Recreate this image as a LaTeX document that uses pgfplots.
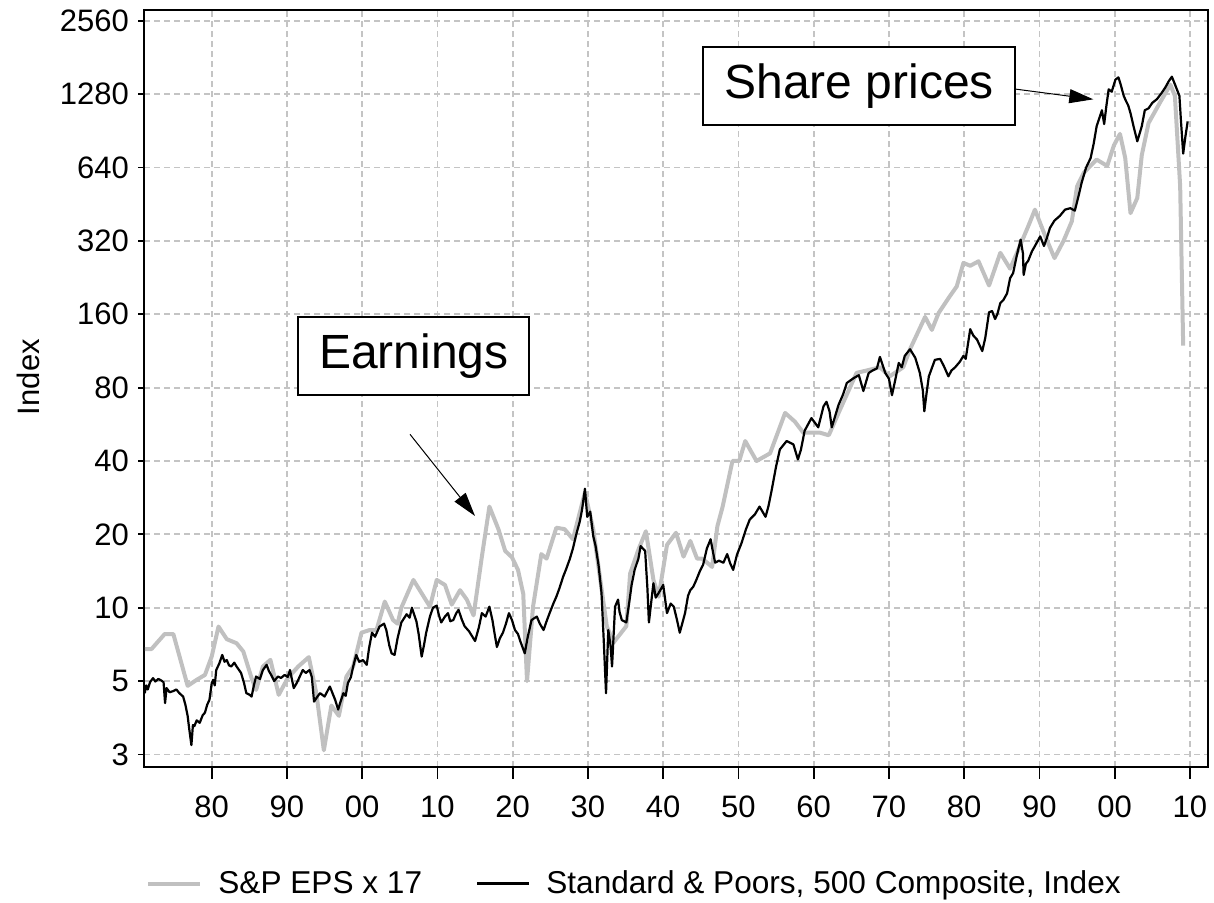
\documentclass[border=0pt]{standalone}
\usepackage{fontspec}
\setmainfont{Liberation Sans}
\usepackage{pgfplots}
\pgfplotsset{compat=1.18}
\usetikzlibrary{arrows.meta}

\definecolor{epsgrey}{HTML}{C0C0C0}
\definecolor{gridgrey}{HTML}{C4C4C4}

% S&P EPS x 17
\pgfplotstableread{
year eps
1871.1 6.77
1872.0 6.77
1873.75 7.8
1874.9 7.8
1876.8 4.78
1878.0 5.06
1879.1 5.3
1880.0 6.31
1880.9 8.37
1882.0 7.43
1883.3 7.15
1884.2 6.61
1885.3 5.14
1885.9 4.6
1886.8 5.74
1887.8 6.11
1888.9 4.39
1890.1 5.14
1891.5 5.74
1892.9 6.27
1893.9 4.46
1894.9 2.6
1895.9 3.97
1896.9 3.6
1897.9 5.22
1898.8 5.74
1899.9 7.9
1901.0 8.1
1901.9 8.1
1903.0 10.6
1904.1 8.9
1904.7 8.6
1905.2 10.0
1906.8 13.0
1909.0 10.1
1909.9 13.0
1911.0 12.4
1911.9 10.3
1913.0 11.8
1913.9 10.8
1914.8 9.3
1915.9 16.2
1916.9 26
1918.1 21
1919.0 17.1
1919.9 16.1
1920.7 14.3
1921.4 11.4
1921.9 5.0
1922.7 10.1
1923.8 16.6
1924.5 15.9
1925.8 21.3
1926.9 21
1928.0 19.1
1929.6 29.7
1930.7 21
1932.5 8.4
1933.4 7.2
1935.1 8.4
1935.6 13.8
1936.7 17.3
1937.7 20.6
1938.7 13
1939.4 11.1
1940.5 18.1
1941.7 20.3
1942.7 16.2
1943.6 18.8
1944.5 15.9
1945.2 15.9
1946.5 14.7
1947.2 21.6
1947.9 26
1949.2 40
1950.1 40
1950.9 48.3
1952.4 40
1954.2 43
1956.2 63
1957.5 58
1958.6 52.3
1960.8 52.3
1962.0 51
1963.5 65
1965.7 92
1967.0 94
1968.8 97
1970.1 89
1971.9 97
1972.8 115
1974.8 156
1975.7 138
1976.6 162
1978.1 190
1979.0 208
1979.9 260
1980.8 253
1981.9 264
1983.3 210
1984.8 286
1986.1 246
1987.2 295
1988.5 367
1989.4 430
1990.8 333
1992.0 272
1993.2 320
1994.3 385
1995.0 536
1995.9 610
1997.6 690
1999.0 650
1999.9 790
2000.7 880
2001.4 700
2002.1 416
2003.0 480
2003.6 720
2004.5 975
2006.0 1180
2007.4 1400
2008.0 1260
2008.7 536
2009.1 119
}\epstable

% Standard & Poors 500 Composite index
\pgfplotstableread{
year spx
1871.1 4.46
1871.3 4.8
1871.5 4.62
1871.8 4.95
1872.2 5.14
1872.5 4.98
1872.9 5.1
1873.2 5.05
1873.6 4.95
1873.8 4.06
1874.0 4.68
1874.4 4.5
1874.9 4.55
1875.3 4.62
1875.7 4.46
1876.2 4.32
1876.5 4.0
1876.8 3.6
1877.0 3.2
1877.3 2.73
1877.5 3.3
1877.7 3.27
1878.0 3.45
1878.4 3.37
1878.8 3.62
1879.1 3.71
1879.4 4.0
1879.7 4.19
1880.0 4.9
1880.2 5.06
1880.4 4.8
1880.6 5.55
1881.0 5.9
1881.4 6.4
1881.7 6.0
1882.0 6.1
1882.3 5.8
1882.6 5.74
1883.0 5.95
1883.3 5.74
1883.9 5.4
1884.3 4.9
1884.6 4.46
1885.0 4.4
1885.3 4.32
1885.6 4.8
1885.9 5.22
1886.4 5.1
1886.8 5.55
1887.3 5.83
1887.6 5.5
1887.9 5.3
1888.3 5.0
1888.8 5.22
1889.2 5.15
1889.7 5.3
1890.1 5.2
1890.4 5.55
1890.9 4.68
1891.2 4.85
1891.5 5.06
1892.1 5.55
1892.5 5.4
1893.0 5.55
1893.3 5.2
1893.6 4.12
1894.0 4.3
1894.4 4.46
1895.0 4.32
1895.3 4.5
1895.7 4.75
1896.0 4.5
1896.4 4.19
1896.8 3.82
1897.1 4.1
1897.5 4.46
1897.8 4.35
1898.1 4.91
1898.5 5.2
1898.8 5.74
1899.2 6.4
1899.6 6.0
1900.1 6.1
1900.6 5.83
1900.9 6.8
1901.3 7.9
1901.7 7.6
1902.3 8.37
1902.9 8.6
1903.2 8.1
1903.6 7.0
1903.9 6.5
1904.3 6.4
1904.7 7.5
1905.2 8.7
1905.9 9.4
1906.3 9.1
1906.6 10
1907.2 8.8
1907.5 7.8
1907.9 6.3
1908.2 7.0
1908.5 7.9
1909.0 9.2
1909.4 10
1909.9 10.2
1910.2 9.3
1910.5 8.7
1911.0 9.2
1911.4 9.5
1911.7 8.8
1912.1 8.9
1912.5 9.5
1912.8 9.8
1913.2 9.0
1913.6 8.4
1914.2 8.0
1915.0 7.3
1915.5 8.3
1915.9 9.5
1916.4 9.2
1916.9 10.1
1917.3 8.9
1917.6 7.8
1917.9 6.9
1918.3 7.5
1918.7 7.9
1919.1 8.6
1919.5 9.5
1919.9 8.9
1920.3 8.1
1920.7 7.8
1921.0 7.3
1921.6 6.5
1922.0 7.6
1922.5 8.9
1923.2 9.2
1923.6 8.6
1924.1 8.1
1924.5 8.8
1924.9 9.5
1925.4 10.4
1925.8 11.1
1926.2 12.0
1926.7 13.4
1927.1 14.4
1927.6 15.9
1928.0 17.5
1928.5 20.3
1928.9 22.5
1929.2 25.1
1929.6 30.8
1929.9 23.6
1930.3 24.8
1930.7 19.7
1931.0 18.0
1931.4 15
1931.8 11.5
1932.1 7.3
1932.4 4.46
1932.7 8.1
1933.0 7.0
1933.2 5.74
1933.6 10.1
1934.0 10.8
1934.2 9.6
1934.5 8.9
1935.1 8.7
1935.5 10.6
1935.8 12.4
1936.2 14.3
1936.7 15.9
1937.0 17.9
1937.6 17.1
1937.9 12.0
1938.1 8.7
1938.4 10.5
1938.7 12.6
1939.0 11.0
1939.4 11.5
1940.0 12.4
1940.5 9.5
1941.0 10.4
1941.4 10.1
1941.8 9.0
1942.2 7.9
1942.9 9.5
1943.3 11.2
1943.6 11.8
1944.0 12.2
1944.4 13
1944.9 14.2
1945.3 15
1945.8 17.5
1946.3 19.1
1946.6 17.0
1946.9 15.3
1947.4 15.6
1948.0 15.3
1948.5 16.6
1948.9 15.2
1949.3 14.3
1949.8 16.5
1950.4 18.4
1951.0 21.0
1951.5 23
1952.2 24.2
1952.8 26
1953.6 23.6
1954.0 26.2
1954.4 30.2
1955.0 38.0
1955.5 44.6
1956.4 48.3
1957.3 46.8
1957.9 40.6
1958.3 44.5
1958.8 53.3
1959.7 60
1960.6 55
1961.3 67
1961.7 70
1962.1 64
1962.4 55
1963.3 68
1963.9 75
1964.4 83.6
1965.3 87.5
1966.0 90
1966.6 77.5
1967.3 91.8
1967.8 94
1968.4 96
1968.8 107
1969.5 92
1970.0 87
1970.4 74.5
1970.8 85
1971.3 101
1971.7 97
1972.1 108
1972.8 115
1973.5 106
1974.1 92
1974.5 78
1974.7 64
1975.0 76
1975.3 89
1976.1 104
1976.8 105
1977.3 98
1977.9 89
1978.3 94
1978.8 97
1979.4 102
1979.9 108
1980.2 105
1980.8 139
1981.2 131
1981.7 126
1982.4 113
1982.8 128
1983.3 163
1983.7 165
1984.1 153
1984.4 160
1984.8 178
1985.2 183
1985.7 195
1986.1 225
1986.5 236
1987.0 280
1987.5 324
1987.8 285
1987.9 232
1988.2 258
1988.5 265
1989.0 290
1989.4 305
1990.1 334
1990.6 305
1991.0 330
1991.4 362
1992.0 388
1992.7 405
1993.4 430
1994.1 436
1994.7 426
1995.2 490
1995.6 554
1996.2 640
1996.8 700
1997.2 800
1997.6 946
1998.3 1100
1998.6 965
1998.9 1150
1999.2 1340
1999.6 1310
2000.1 1470
2000.5 1500
2000.8 1400
2001.2 1260
2001.5 1200
2001.8 1150
2002.1 1070
2002.5 946
2003.0 820
2003.3 880
2003.6 946
2004.0 1100
2004.5 1120
2005.0 1180
2005.6 1220
2006.2 1290
2006.7 1360
2007.2 1450
2007.6 1510
2008.1 1380
2008.6 1260
2008.8 1000
2009.1 730
2009.4 860
2009.7 990
}\spxtable

\begin{document}
\begin{tikzpicture}
\useasboundingbox (-72pt,-67.5pt) rectangle (535pt,383.5pt);
\begin{axis}[
    at={(0,0)}, anchor=south west,
    scale only axis,
    width=532pt, height=378.5pt,
    font=\fontsize{15.5}{18}\selectfont,
    ymode=log, log basis y=2,
    xmin=1871, xmax=2012.4,
    ymin=2.22, ymax=2836,
    xtick={1880,1890,...,2010},
    xticklabels={80,90,00,10,20,30,40,50,60,70,80,90,00,10},
    ytick={2.5,5,10,20,40,80,160,320,640,1280,2560},
    yticklabels={3,5,10,20,40,80,160,320,640,1280,2560},
    tick pos=left, tick align=outside,
    major tick length=3pt,
    xtick style={/pgfplots/major tick length=6pt, black, line width=0.9pt},
    ytick style={black, line width=0.9pt},
    xticklabel style={yshift=-8pt},
    yticklabel style={xshift=-1pt},
    axis line style={line width=1pt},
    grid=major,
    grid style={gridgrey, dash pattern=on 3pt off 2pt, line width=0.9pt},
    ylabel={Index},
    ylabel style={at={(axis description cs:-0.109,0.515)}, anchor=center},
    legend columns=2,
    legend style={draw=none, fill=none, at={(axis description cs:0.462,-0.154)},
        anchor=center, font=\fontsize{15.8}{18}\selectfont,
        /tikz/every odd column/.append style={column sep=6pt},
        /tikz/every even column/.append style={column sep=25pt}},
    legend image code/.code={\draw[#1] (0pt,0pt) -- (26pt,0pt);},
    legend cell align=left,
]
\addplot[epsgrey, line width=2pt, line join=round] table[x=year, y=eps] {\epstable};
\addlegendentry{S\&P EPS x 17}
\addplot[black, line width=1.1pt, line join=round] table[x=year, y=spx] {\spxtable};
\addlegendentry{Standard \& Poors, 500 Composite, Index}

\node[draw, line width=1pt, fill=white, minimum width=115.5pt, minimum height=39.2pt,
      inner sep=0pt, font=\fontsize{24}{28}\selectfont]
      at (axis description cs:0.2536,0.5432) {Earnings};
\draw[line width=0.5pt, -{Triangle[length=12pt,width=7pt]}]
      (axis description cs:0.25,0.4395) -- (axis description cs:0.3111,0.3316);
\node[draw, line width=1pt, fill=white, minimum width=155.9pt, minimum height=39.2pt,
      inner sep=0pt, font=\fontsize{24}{28}\selectfont]
      at (axis description cs:0.6722,0.8998) {Share prices};
\draw[line width=0.5pt, -{Triangle[length=12pt,width=7pt]}]
      (axis description cs:0.8186,0.8956) -- (axis description cs:0.8922,0.882);
\end{axis}
\end{tikzpicture}
\end{document}
